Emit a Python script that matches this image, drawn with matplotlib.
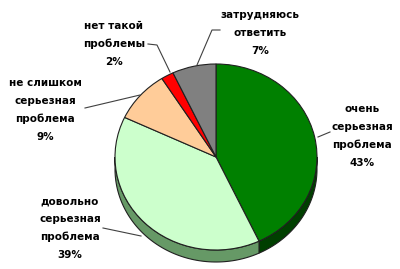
import numpy as np
import matplotlib
matplotlib.use("Agg")
import matplotlib.pyplot as plt

# ---- data ----
labels = ["очень\nсерьезная\nпроблема\n43%",
          "довольно\nсерьезная\nпроблема\n39%",
          "не слишком\nсерьезная\nпроблема\n9%",
          "нет такой\nпроблемы\n2%",
          "затрудняюсь\nответить\n7%"]
values = [43, 39, 9, 2, 7]
top_colors = ["#008000", "#CCFFCC", "#FFCC99", "#FF0000", "#808080"]
side_colors = ["#003F00", "#669966", "#B38F6B", "#B30000", "#5A5A5A"]

# ---- layout (pixels) ----
W, H = 400, 269
cx, cy, rx, ry, depth = 216, 157, 101, 93, 12

fig = plt.figure(figsize=(W / 100, H / 100), dpi=100)
ax = fig.add_axes([0, 0, 1, 1])

def P(px, py):
    return ((px - cx) / rx, (cy - py) / ry)

d = depth / ry
vals = np.array(values, dtype=float)
fr = vals / vals.sum()
cum = np.concatenate([[0], np.cumsum(fr)])

# side (front visible part) of each wedge
for i in range(len(vals)):
    a_hi = 90 - 360 * cum[i]
    a_lo = 90 - 360 * cum[i + 1]
    lo, hi = a_lo % 360, a_lo % 360 + (a_hi - a_lo)
    for shift in (0, 360, -360):
        s_lo = max(lo + shift, 180)
        s_hi = min(hi + shift, 360)
        if s_hi > s_lo:
            t = np.radians(np.linspace(s_lo, s_hi, 80))
            xs = np.concatenate([np.cos(t), np.cos(t[::-1])])
            ys = np.concatenate([np.sin(t), np.sin(t[::-1]) - d])
            ax.fill(xs, ys, facecolor=side_colors[i], edgecolor="#202020",
                    linewidth=0.8, zorder=1)

wedges, _ = ax.pie(vals, colors=top_colors, startangle=90, counterclock=False,
                   radius=1, center=(0, 0),
                   wedgeprops=dict(edgecolor="#202020", linewidth=0.8))
for w in wedges:
    w.set_zorder(2)

ax.set_aspect("auto")
x0, y0 = P(0, H)
x1, y1 = P(W, 0)
ax.set_xlim(x0, x1)
ax.set_ylim(y0, y1)
ax.axis("off")

# labels and leader lines
text_pos = [(362, 136), (70, 228), (45, 110), (114, 44), (260, 33)]
leaders = [
    [(330, 132), (318, 137)],
    [(103, 228), (141, 236)],
    [(85, 108), (140, 95)],
    [(148, 44), (157, 45), (170, 72)],
    [(220, 30), (212, 30), (197, 65)],
]
for lab, (tx, ty), pts in zip(labels, text_pos, leaders):
    ax.text(*P(tx, ty), lab, ha="center", va="center", fontsize=7.5,
            fontweight="bold", linespacing=1.95, color="black",
            family="DejaVu Sans", zorder=5)
    xy = [P(*p) for p in pts]
    ax.plot([p[0] for p in xy], [p[1] for p in xy], color="#404040",
            lw=0.8, zorder=4)

fig.savefig("out.png", dpi=100)
